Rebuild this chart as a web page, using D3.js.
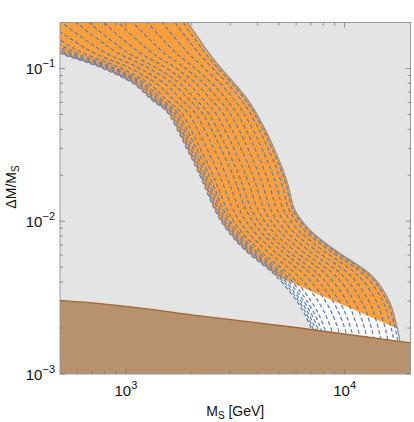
<!DOCTYPE html>
<html><head><meta charset="utf-8">
<script src="https://cdn.jsdelivr.net/npm/d3@7"></script>
<style>body{margin:0;background:#fff}</style>
</head><body>
<svg id="c" width="414" height="422"></svg>
<script>
// y levels shared by the boundary curves (ΔM/M_S)
const yLevels = [0.281, 0.200, 0.153, 0.126, 0.102, 0.0791, 0.0621, 0.0519, 0.0378, 0.0301, 0.0226, 0.0173, 0.0118, 0.00875, 0.00648, 0.00432, 0.00292, 0.00216, 0.00162, 0.000914];
// outer (upper-right) boundary of the band, M_S in GeV at each y level
const outerX = [1695, 1923, 2183, 2399, 2694, 3154, 3616, 3914, 4417, 4753, 5172, 5508, 5930, 6944, 9035, 13480, 16120, 17160, 17900, 18480];
// inner (lower-left) boundary of the band
const innerX = [194, 280, 384, 500, 762, 1089, 1317, 1542, 1750, 1893, 2093, 2276, 2555, 2900, 3504, 4907, 6121, 6871, 7318, 7554];
// relative position of each dashed contour between inner and outer boundary
const curveWeights = [0, 0.02, 0.045, 0.075, 0.11, 0.155, 0.23, 0.31, 0.39, 0.46, 0.54, 0.62, 0.70, 0.78, 0.86, 0.93, 0.975];
// line below which the band is not coloured orange
const cutX = [4417, 17160];
const cutY = [0.00465, 0.0020];
// upper edge of the brown excluded region
const brownX = [500, 762, 1078, 2183, 6251, 20000];
const brownY = [0.00303, 0.00289, 0.00274, 0.00240, 0.00200, 0.00160];
const xMajor = [1000, 10000];
const xMajorLabels = ["3", "4"];
const yMajor = [0.001, 0.01, 0.1];
const yMajorLabels = ["\u22123", "\u22122", "\u22121"];

const L = 60, R = 410.5, T = 22.5, B = 374;
const x = d3.scaleLog().domain([500, 20000]).range([L, R]);
const y = d3.scaleLog().domain([0.001, 0.2]).range([B, T]);
const svg = d3.select("#c");
const defs = svg.append("defs");
defs.append("clipPath").attr("id", "plot").append("rect")
  .attr("x", L).attr("y", T).attr("width", R - L).attr("height", B - T);

const g = svg.append("g").attr("clip-path", "url(#plot)");
g.append("rect").attr("x", L).attr("y", T).attr("width", R - L).attr("height", B - T).attr("fill", "#e4e4e4");

const lg = v => Math.log10(v);
function curvePts(w) {
  return yLevels.map((yv, i) => [Math.pow(10, lg(innerX[i]) + w * (lg(outerX[i]) - lg(innerX[i]))), yv]);
}
const line = d3.line().x(d => x(d[0])).y(d => y(d[1])).curve(d3.curveCatmullRom.alpha(0.5));
const innerPts = curvePts(0), outerPts = curvePts(1);
const bandPath = line(innerPts) + "L" + line(outerPts.slice().reverse()).slice(1) + "Z";

// cut clip: region above the cut line
const slope = (lg(cutY[1]) - lg(cutY[0])) / (lg(cutX[1]) - lg(cutX[0]));
const cutAt = xv => Math.pow(10, lg(cutY[0]) + slope * (lg(xv) - lg(cutX[0])));
defs.append("clipPath").attr("id", "cut").append("path")
  .attr("d", d3.line()([[x(100), y(cutAt(100))], [x(40000), y(cutAt(40000))], [x(40000), 0], [x(100), 0]]));

g.append("path").attr("d", bandPath).attr("fill", "#ffffff");
g.append("g").attr("clip-path", "url(#cut)").append("path").attr("d", bandPath).attr("fill", "#fd9f3b");

g.selectAll("path.c").data(curveWeights).join("path").attr("class", "c")
  .attr("d", w => line(curvePts(w)))
  .attr("fill", "none").attr("stroke", "#5e81b5").attr("stroke-width", 1.3)
  .attr("stroke-dasharray", "4,2.5");

g.append("path").attr("d", line(outerPts)).attr("fill", "none").attr("stroke", "#8c8c8c").attr("stroke-width", 1.2);

const brownPts = brownX.map((v, i) => [v, brownY[i]]);
const bline = d3.line().x(d => x(d[0])).y(d => y(d[1])).curve(d3.curveMonotoneX);
g.append("path").attr("d", bline(brownPts) + `L${R},${B}L${L},${B}Z`).attr("fill", "#b6936e");
g.append("path").attr("d", bline(brownPts)).attr("fill", "none").attr("stroke", "#a2652d").attr("stroke-width", 1.3);

// frame
svg.append("rect").attr("x", L).attr("y", T).attr("width", R - L).attr("height", B - T)
  .attr("fill", "none").attr("stroke", "#9a9a9a").attr("stroke-width", 1);

const ax = svg.append("g").attr("stroke", "#777").attr("stroke-width", 0.8);
const xMinor = [];
[100, 1000, 10000].forEach(d => { for (let k = 1; k <= 9; k++) { const v = d * k; if (v > 500 && v < 20000 && xMajor.indexOf(v) < 0) xMinor.push(v); } });
const yMinor = [];
[0.001, 0.01, 0.1].forEach(d => { for (let k = 2; k <= 9; k++) { const v = d * k; if (v < 0.2) yMinor.push(v); } });
xMajor.forEach(v => { ax.append("line").attr("x1", x(v)).attr("x2", x(v)).attr("y1", B).attr("y2", B - 5); ax.append("line").attr("x1", x(v)).attr("x2", x(v)).attr("y1", T).attr("y2", T + 5); });
xMinor.forEach(v => { ax.append("line").attr("x1", x(v)).attr("x2", x(v)).attr("y1", B).attr("y2", B - 3); ax.append("line").attr("x1", x(v)).attr("x2", x(v)).attr("y1", T).attr("y2", T + 3); });
yMajor.forEach(v => { ax.append("line").attr("y1", y(v)).attr("y2", y(v)).attr("x1", L).attr("x2", L + 5); ax.append("line").attr("y1", y(v)).attr("y2", y(v)).attr("x1", R).attr("x2", R - 5); });
yMinor.forEach(v => { ax.append("line").attr("y1", y(v)).attr("y2", y(v)).attr("x1", L).attr("x2", L + 3); ax.append("line").attr("y1", y(v)).attr("y2", y(v)).attr("x1", R).attr("x2", R - 3); });

const font = "'Liberation Sans', Arial, sans-serif";
xMajor.forEach((v, i) => {
  const t = svg.append("text").attr("x", x(v)).attr("y", B + 22).attr("text-anchor", "middle")
    .attr("font-family", font).attr("font-size", 15).attr("fill", "#111");
  t.append("tspan").text("10");
  t.append("tspan").attr("dy", -7).attr("font-size", 11).text(xMajorLabels[i]);
});
yMajor.forEach((v, i) => {
  const t = svg.append("text").attr("x", L - 5).attr("y", y(v) + 6).attr("text-anchor", "end")
    .attr("font-family", font).attr("font-size", 15).attr("fill", "#111");
  t.append("tspan").text("10");
  t.append("tspan").attr("dy", -7).attr("font-size", 11).text(yMajorLabels[i]);
});
const xl = svg.append("text").attr("x", (L + R) / 2).attr("y", 416).attr("text-anchor", "middle")
  .attr("font-family", font).attr("font-size", 14).attr("fill", "#111");
xl.append("tspan").text("M");
xl.append("tspan").attr("dy", 3).attr("font-size", 10).text("S");
xl.append("tspan").attr("dy", -3).text(" [GeV]");
const yl = svg.append("text").attr("transform", "translate(16,187) rotate(-90)").attr("text-anchor", "middle")
  .attr("font-family", font).attr("font-size", 14).attr("fill", "#111");
yl.append("tspan").text("\u0394M/M");
yl.append("tspan").attr("dy", 3).attr("font-size", 10).text("S");
</script>
</body></html>
